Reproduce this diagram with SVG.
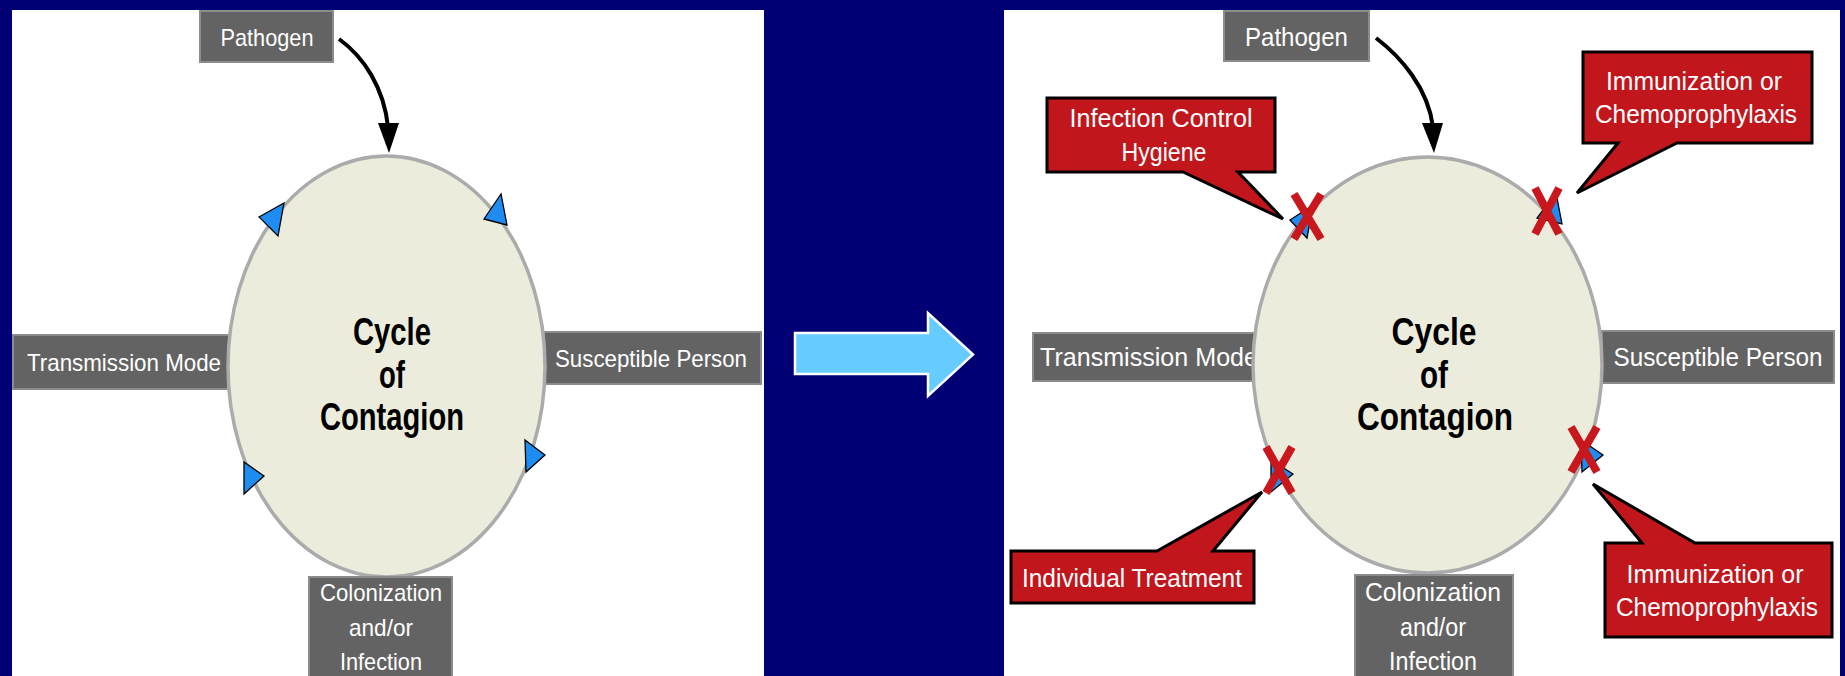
<svg xmlns="http://www.w3.org/2000/svg" width="1845" height="676" viewBox="0 0 1845 676">
<style>
.gbox{fill:#636363;stroke:#8c8c8c;stroke-width:2}
.gtxt{fill:#ffffff;font-family:"Liberation Sans",Arial,sans-serif;font-size:24px;text-anchor:middle}
.gtxt2{fill:#ffffff;font-family:"Liberation Sans",Arial,sans-serif;font-size:25px;text-anchor:middle}
.cyc{fill:#ECECDC;stroke:#ABABAB;stroke-width:3.5}
.ctxt{fill:#000000;font-family:"Liberation Sans",Arial,sans-serif;font-weight:bold;font-size:38px;text-anchor:middle}
.callout{fill:#C0161C;stroke:#000000;stroke-width:3;stroke-linejoin:miter}
.rtxt{fill:#ffffff;font-family:"Liberation Sans",Arial,sans-serif;font-size:26px;text-anchor:middle}
.tri{fill:#1E8CF0;stroke:#000000;stroke-width:1.3;stroke-linejoin:miter}
.xm{stroke:#C8181E;stroke-width:8;fill:none}
.conn{fill:none;stroke:#000000;stroke-width:4}
.head{fill:#000000}
</style>
<rect x="0" y="0" width="1845" height="676" fill="#000074"/>
<rect id="left-panel" x="12" y="10" width="752" height="666" fill="#ffffff"/>
<rect id="right-panel" x="1004" y="10" width="836" height="666" fill="#ffffff"/>

<!-- LEFT DIAGRAM -->
<g id="L-transmission">
<rect class="gbox" x="13" y="335" width="218" height="54"/>
<text class="gtxt" x="124" y="371" textLength="194" lengthAdjust="spacingAndGlyphs">Transmission Mode</text>
</g>
<g id="L-susceptible">
<rect class="gbox" x="544" y="332" width="217" height="52"/>
<text class="gtxt" x="651" y="367" textLength="192" lengthAdjust="spacingAndGlyphs">Susceptible Person</text>
</g>
<g id="L-cycle">
<ellipse class="cyc" cx="386.5" cy="366.5" rx="158.5" ry="210.5"/>
<text class="ctxt" x="392" y="345" textLength="78" lengthAdjust="spacingAndGlyphs">Cycle</text>
<text class="ctxt" x="392" y="388" textLength="26" lengthAdjust="spacingAndGlyphs">of</text>
<text class="ctxt" x="392" y="430" textLength="144" lengthAdjust="spacingAndGlyphs">Contagion</text>
</g>
<g id="L-pathogen">
<rect class="gbox" x="200" y="11" width="133" height="51"/>
<text class="gtxt" x="267" y="46" textLength="93" lengthAdjust="spacingAndGlyphs">Pathogen</text>
</g>
<g id="L-colonization">
<rect class="gbox" x="309" y="577" width="143" height="110"/>
<text class="gtxt" x="381" y="601" textLength="122" lengthAdjust="spacingAndGlyphs">Colonization</text>
<text class="gtxt" x="381" y="636" textLength="64" lengthAdjust="spacingAndGlyphs">and/or</text>
<text class="gtxt" x="381" y="670" textLength="82" lengthAdjust="spacingAndGlyphs">Infection</text>
</g>

<!-- RIGHT DIAGRAM -->
<g id="R-transmission">
<rect class="gbox" x="1033" y="333" width="225" height="48"/>
<text class="gtxt2" x="1040" y="366" style="text-anchor:start" textLength="218" lengthAdjust="spacingAndGlyphs">Transmission Mode</text>
</g>
<g id="R-susceptible">
<rect class="gbox" x="1602" y="331" width="232" height="52"/>
<text class="gtxt2" x="1718" y="366" textLength="209" lengthAdjust="spacingAndGlyphs">Susceptible Person</text>
</g>
<g id="R-cycle">
<ellipse class="cyc" cx="1427.5" cy="365" rx="174.5" ry="208"/>
<text class="ctxt" x="1434" y="345" font-size="40" textLength="85" lengthAdjust="spacingAndGlyphs">Cycle</text>
<text class="ctxt" x="1434" y="388" font-size="40" textLength="28" lengthAdjust="spacingAndGlyphs">of</text>
<text class="ctxt" x="1435" y="430" font-size="40" textLength="156" lengthAdjust="spacingAndGlyphs">Contagion</text>
</g>
<g id="R-pathogen">
<rect class="gbox" x="1224" y="11" width="145" height="50"/>
<text class="gtxt2" x="1296.5" y="46" textLength="103" lengthAdjust="spacingAndGlyphs">Pathogen</text>
</g>
<g id="R-colonization">
<rect class="gbox" x="1355" y="575" width="158" height="110"/>
<text class="gtxt2" x="1433" y="601" textLength="136" lengthAdjust="spacingAndGlyphs">Colonization</text>
<text class="gtxt2" x="1433" y="636" textLength="66" lengthAdjust="spacingAndGlyphs">and/or</text>
<text class="gtxt2" x="1433" y="670" textLength="88" lengthAdjust="spacingAndGlyphs">Infection</text>
</g>

<!-- CONNECTORS -->
<g id="connectors">
<path class="conn" d="M339,39 C364,57 384,88 388,127"/>
<polygon class="head" points="378,123 399,123 389,153"/>
<path class="conn" d="M1376,38 C1401,57 1428,88 1433,127"/>
<polygon class="head" points="1422,123 1443,123 1434,153"/>
<polygon class="tri" points="259,217 284,203 278,236"/>
<polygon class="tri" points="501,194 484,219 507,225"/>
<polygon class="tri" points="525,440 545,455 526,472"/>
<polygon class="tri" points="244,462 264,476 244,494"/>
<polygon class="tri" points="1290,220 1313,205 1307,238"/>
<polygon class="tri" points="1556,193 1537,218 1562,224"/>
<polygon class="tri" points="1271,460 1293,474 1271,492"/>
<polygon class="tri" points="1581,440 1603,455 1582,472"/>
</g>

<g id="transition-arrow">
<polygon points="795,333 928,333 928,313 973,354.5 928,396 928,374 795,374" fill="#66CCFF" stroke="#ffffff" stroke-width="2.5"/>
</g>

<!-- X marks -->
<g id="x-marks">
<path class="xm" d="M1294,194 L1321,239 M1321,194 L1294,239"/>
<path class="xm" d="M1535,188 L1559,234 M1559,188 L1535,234"/>
<path class="xm" d="M1266,447 L1292,493 M1292,447 L1266,493"/>
<path class="xm" d="M1571,427 L1597,472 M1597,427 L1571,472"/>
</g>

<!-- CALLOUTS -->
<g id="callout-infection-control">
<path class="callout" d="M1047,98 H1275 V172 H1238 L1283,219 L1183,172 H1047 Z"/>
<text class="rtxt" x="1161" y="127" textLength="183" lengthAdjust="spacingAndGlyphs">Infection Control</text>
<text class="rtxt" x="1164" y="161" textLength="85" lengthAdjust="spacingAndGlyphs">Hygiene</text>
</g>
<g id="callout-immunization-top">
<path class="callout" d="M1583,52 H1812 V143 H1677 L1577,193 L1618,143 H1583 Z"/>
<text class="rtxt" x="1694" y="90" textLength="176" lengthAdjust="spacingAndGlyphs">Immunization or</text>
<text class="rtxt" x="1696" y="123" textLength="202" lengthAdjust="spacingAndGlyphs">Chemoprophylaxis</text>
</g>
<g id="callout-individual-treatment">
<path class="callout" d="M1011,551 H1157 L1262,492 L1213,551 H1254 V603 H1011 Z"/>
<text class="rtxt" x="1132" y="587" textLength="220" lengthAdjust="spacingAndGlyphs">Individual Treatment</text>
</g>
<g id="callout-immunization-bottom">
<path class="callout" d="M1605,543 H1642 L1593,484 L1695,543 H1832 V637 H1605 Z"/>
<text class="rtxt" x="1715" y="583" textLength="177" lengthAdjust="spacingAndGlyphs">Immunization or</text>
<text class="rtxt" x="1717" y="616" textLength="202" lengthAdjust="spacingAndGlyphs">Chemoprophylaxis</text>
</g>
</svg>
